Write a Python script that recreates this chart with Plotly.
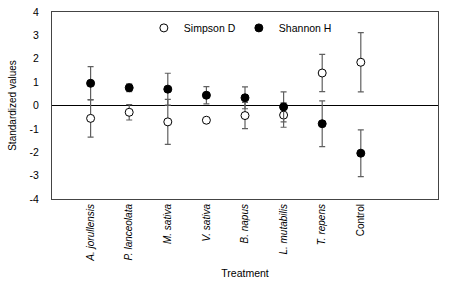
import plotly.graph_objects as go

treatments = ["<i>A. jorullensis</i>", "<i>P. lanceolata</i>", "<i>M. sativa</i>", "<i>V. sativa</i>",
              "<i>B. napus</i>", "<i>L. mutabilis</i>", "<i>T. repens</i>", "Control"]
positions = [1, 2, 3, 4, 5, 6, 7, 8]

simpson = [-0.55, -0.29, -0.70, -0.63, -0.43, -0.41, 1.39, 1.85]
simpson_err = [0.80, 0.33, 0.96, 0.04, 0.56, 0.52, 0.80, 1.27]

shannon = [0.95, 0.76, 0.70, 0.44, 0.33, -0.06, -0.78, -2.04]
shannon_err = [0.71, 0.17, 0.68, 0.37, 0.47, 0.64, 0.98, 1.00]

y_ticks = [-4, -3, -2, -1, 0, 1, 2, 3, 4]
y_ticktext = ["-4", "-3", "-2", "-1", "0", "1", "2", "3", "4"]

font_family = "Liberation Sans, Arial, sans-serif"
err_color = "#606060"

fig = go.Figure()
fig.add_trace(go.Scatter(
    x=positions, y=simpson, mode="markers", name="Simpson D",
    marker=dict(symbol="circle", size=8, color="white", line=dict(color="black", width=1)),
    error_y=dict(type="data", array=simpson_err, color=err_color, thickness=1.2, width=3),
))
fig.add_trace(go.Scatter(
    x=positions, y=shannon, mode="markers", name="Shannon H",
    marker=dict(symbol="circle", size=8, color="black", line=dict(color="black", width=1)),
    error_y=dict(type="data", array=shannon_err, color=err_color, thickness=1.2, width=3),
))

fig.update_layout(
    width=451, height=288,
    margin=dict(l=52, r=13, t=12, b=89, autoexpand=False),
    paper_bgcolor="white", plot_bgcolor="white",
    font=dict(family=font_family, size=10, color="black"),
    showlegend=True,
    legend=dict(orientation="h", x=0.238, y=0.915, xanchor="left", yanchor="middle",
                bgcolor="rgba(0,0,0,0)", font=dict(size=10.5), itemwidth=30,
                entrywidth=50, tracegroupgap=0),
    xaxis=dict(range=[0, 10], tickvals=positions, ticktext=treatments, tickangle=-90,
               showgrid=False, zeroline=False, showline=True, linecolor="#444", linewidth=1,
               mirror=True, ticks="", tickfont=dict(size=10), automargin=False,
               title=dict(text="Treatment", font=dict(size=10.5), standoff=8)),
    yaxis=dict(range=[-4, 4], tickvals=y_ticks, ticktext=y_ticktext, showgrid=False, zeroline=True,
               zerolinecolor="black", zerolinewidth=1, showline=True, linecolor="#444",
               linewidth=1, mirror=True, ticks="", ticklen=0, tickfont=dict(size=10.5),
               ticklabelstandoff=10, automargin=False,
               title=dict(text="Standardized values", font=dict(size=10), standoff=11)),
)

fig.write_html("out.html", config={"displayModeBar": False},
               post_script="document.body.style.margin='0';document.body.style.padding='0';")
